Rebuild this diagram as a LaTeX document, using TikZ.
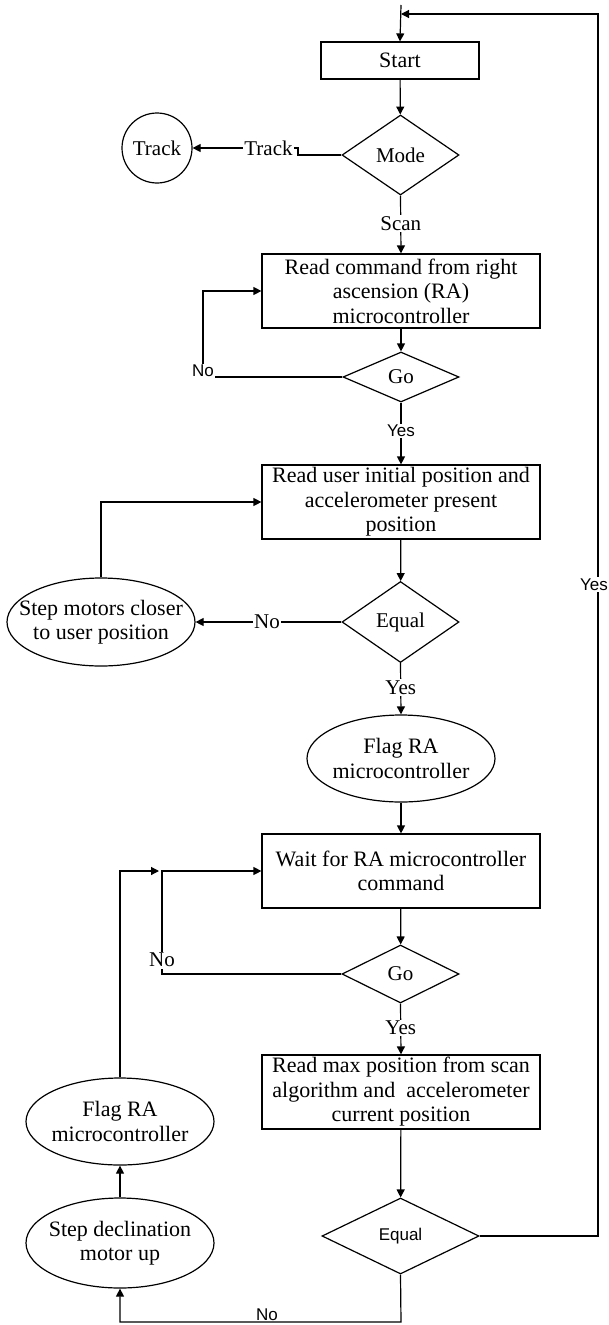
\documentclass[tikz,border=0pt]{standalone}
\usepackage{fontspec}
\setmainfont{Liberation Serif}
\newfontfamily\arialfont{Liberation Sans}
\usetikzlibrary{shapes.geometric,arrows.meta}
\begin{document}
\begin{tikzpicture}[x=1pt,y=-1pt,
  line/.style={line width=1.2pt, draw=black},
  flow/.style={line, -{Triangle[length=8pt,width=8pt]}},
  boxfont/.style={font=\fontsize{22}{24.5}\selectfont},
  serfont/.style={font=\fontsize{21}{24}\selectfont},
  sansfont/.style={font=\arialfont\fontsize{17}{20}\selectfont},
  stepbox/.style={line, rectangle, minimum width=278pt, minimum height=74pt,
    inner sep=0pt, align=center, boxfont},
  decision/.style={line, diamond, inner sep=0pt, serfont},
  terminal/.style={line, ellipse, minimum width=188pt, minimum height=87pt, inner sep=0pt},
  ovaltext/.style={align=center, boxfont, inner sep=0pt},
  lbl/.style={fill=white, inner sep=1.5pt, serfont},
  sanslbl/.style={fill=white, inner sep=1.5pt, sansfont}
]
\useasboundingbox (0,0) rectangle (609,1325);

% ---- process nodes ----
\node[stepbox, minimum width=158pt, minimum height=37pt] (start) at (400,60.5) {Start};
\node[decision, minimum width=117pt, minimum height=80pt] (mode) at (400.5,155) {Mode};
\node[line, circle, minimum size=70pt, inner sep=0pt, serfont] (track) at (157,148) {Track};
\node[stepbox] (cmd) at (401,291) {Read command from right\\ascension (RA)\\microcontroller};
\node[decision, minimum width=116pt, minimum height=50pt] (go1) at (401,377) {Go};
\node[stepbox] (user) at (401,502) {Read user initial position and\\accelerometer present\\position};
\node[decision, minimum width=117pt, minimum height=81pt] (eq1) at (400.5,622) {Equal};
\node[terminal, minimum height=88pt] (stepm) at (101,622) {};
\node[ovaltext] (stepm-t) at (stepm.center) {Step motors closer\\to user position};
\node[terminal] (flag1) at (401,758.5) {};
\node[ovaltext] (flag1-t) at (flag1.center) {Flag RA\\microcontroller};
\node[stepbox] (wait) at (401,871) {Wait for RA microcontroller\\command};
\node[decision, minimum width=117pt, minimum height=58pt] (go2) at (400.5,974) {Go};
\node[stepbox] (maxp) at (401,1092) {Read max position from scan\\algorithm and\ \ accelerometer\\current position};
\node[decision, minimum width=157pt, minimum height=76pt, sansfont] (eq2) at (400.5,1236) {Equal};
\node[terminal] (flag2) at (120,1121.5) {};
\node[ovaltext] (flag2-t) at (flag2.center) {Flag RA\\microcontroller};
\node[terminal, minimum height=90pt] (stepd) at (120,1243) {};
\node[ovaltext] (stepd-t) at (stepd.center) {Step declination\\motor up};

% ---- routing points ----
\coordinate (topin) at (401,5);
\coordinate (merge) at (401,14);
\coordinate (rtbot) at (598,1236);
\coordinate (rttop) at (598,14);
\coordinate (tj1) at (298,155);
\coordinate (tj2) at (298,148);
\coordinate (g1a) at (203,377);
\coordinate (g1b) at (203,291);
\coordinate (smup) at (101,502);
\coordinate (g2a) at (162,974);
\coordinate (g2b) at (162,871);
\coordinate (ebot) at (401,1322);
\coordinate (sdbot) at (120,1322);
\coordinate (f2up) at (120,871);
\coordinate (f2tip) at (159,871);

% ---- connectors ----
\draw[flow] (topin) -- (start.north);
\draw[flow] (eq2.east) -- (rtbot) -- node[sanslbl, pos=0.533, xshift=-4pt]{Yes} (rttop) -- (merge);
\draw[flow] (start) -- (mode);
\draw[flow] (mode.west) -- (tj1) -- (tj2) -- node[lbl, pos=0.28]{Track} (track.east);
\draw[flow] (mode.south) -- node[lbl, pos=0.49]{Scan} (cmd.north);
\draw[flow] (cmd) -- (go1);
\draw[flow] (go1.west) -- (g1a) -- node[sanslbl, pos=0.07]{No} (g1b) -- (cmd.west);
\draw[flow] (go1.south) -- node[sanslbl, pos=0.46]{Yes} (user.north);
\draw[flow] (user) -- (eq1);
\draw[flow] (eq1.west) -- node[lbl, pos=0.51]{No} (stepm.east);
\draw[flow] (stepm.north) -- (smup) -- (user.west);
\draw[flow] (eq1.south) -- node[lbl, pos=0.48]{Yes} (flag1.north);
\draw[flow] (flag1) -- (wait);
\draw[flow] (wait) -- (go2);
\draw[flow] (go2.west) -- (g2a) -- node[lbl, pos=0.135]{No} (g2b) -- (wait.west);
\draw[flow] (go2.south) -- node[lbl, pos=0.48]{Yes} (maxp.north);
\draw[flow] (maxp) -- (eq2);
\draw[flow] (eq2.south) -- (ebot) -- node[sansfont, inner sep=1pt, anchor=south, pos=0.477]{No} (sdbot) -- (stepd.south);
\draw[flow] (stepd) -- (flag2);
\draw[flow] (flag2.north) -- (f2up) -- (f2tip);
\end{tikzpicture}
\end{document}
